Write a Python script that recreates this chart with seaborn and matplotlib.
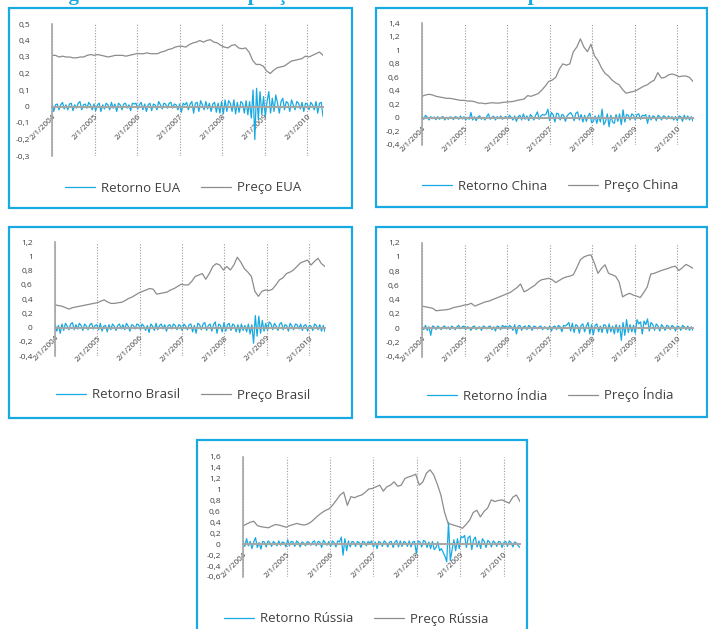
import numpy as np
import pandas as pd
import matplotlib
matplotlib.use('Agg')
import matplotlib.pyplot as plt
import matplotlib.patches as mpatches
import seaborn as sns


## ---- data (monthly prices, half-monthly returns) ----
start_date, end_date = '2004-01-02', '2010-05-18'
year_ticks = ['2004-01-02', '2005-01-02', '2006-01-02', '2007-01-02',
              '2008-01-02', '2009-01-02', '2010-01-02']
year_labels = ['2/1/2004', '2/1/2005', '2/1/2006', '2/1/2007',
               '2/1/2008', '2/1/2009', '2/1/2010']

countries = ['EUA', 'China', 'Brasil', 'Índia', 'Rússia']

price_eua = [0.31, 0.31, 0.30, 0.305, 0.30, 0.30, 0.295, 0.295, 0.30, 0.30, 0.31, 0.315,
             0.31, 0.315, 0.31, 0.305, 0.30, 0.305, 0.31, 0.31, 0.31, 0.305, 0.31, 0.315,
             0.32, 0.32, 0.32, 0.325, 0.32, 0.32, 0.32, 0.33, 0.335, 0.345, 0.35, 0.36,
             0.365, 0.365, 0.36, 0.375, 0.385, 0.39, 0.40, 0.39, 0.40, 0.405, 0.39, 0.385,
             0.37, 0.36, 0.355, 0.37, 0.375, 0.355, 0.35, 0.355, 0.33, 0.28, 0.255, 0.255,
             0.245, 0.215, 0.20, 0.22, 0.235, 0.24, 0.245, 0.26, 0.275, 0.28, 0.285, 0.29,
             0.305, 0.30, 0.31, 0.32, 0.33, 0.31]
ret_eua = [0.02, -0.03, 0.01, 0.015, -0.02, 0.01, 0.025, -0.015, 0.01, -0.02, 0.015, 0.02,
           -0.025, 0.01, -0.01, 0.02, 0.03, -0.02, 0.01, 0.015, -0.01, 0.025, 0.01, -0.02,
           0.015, -0.025, 0.01, 0.02, -0.03, 0.01, -0.015, 0.02, 0.01, -0.02, 0.025, -0.01,
           0.015, -0.03, 0.02, 0.01, -0.02, 0.015, 0.02, -0.01, 0.01, -0.025, 0.02, 0.015,
           0.02, -0.015, 0.01, 0.025, -0.02, 0.015, -0.03, 0.01, 0.02, -0.025, 0.015, 0.01,
           -0.02, 0.03, 0.01, -0.015, 0.02, 0.015, -0.01, 0.02, 0.025, -0.01, 0.015, 0.01,
           -0.02, 0.015, -0.035, 0.02, 0.01, 0.025, -0.02, 0.015, 0.03, -0.04, 0.02, 0.025,
           -0.03, 0.035, 0.01, -0.02, 0.03, -0.015, 0.02, -0.03, 0.015, 0.025, -0.035, 0.02,
           -0.04, 0.03, -0.045, 0.04, -0.03, 0.035, 0.02, -0.03, 0.04, -0.045, 0.025, -0.035,
           0.03, 0.02, -0.04, 0.035, -0.05, 0.03, -0.07, 0.10, -0.20, 0.11, -0.08, 0.09,
           -0.05, 0.06, -0.06, 0.03, 0.09, -0.04, 0.05, -0.03, 0.07, 0.02, -0.04, 0.03,
           0.05, -0.02, 0.03, 0.02, -0.03, 0.04, 0.01, -0.02, 0.03, 0.02, -0.015, 0.025,
           -0.03, 0.02, 0.015, -0.02, 0.025, 0.01, -0.02, 0.03, -0.04, 0.02, 0.025, -0.06]

price_china = [0.32, 0.34, 0.35, 0.34, 0.32, 0.31, 0.30, 0.29, 0.29, 0.28, 0.27, 0.26,
               0.26, 0.25, 0.25, 0.24, 0.22, 0.22, 0.21, 0.22, 0.225, 0.22, 0.22, 0.23,
               0.235, 0.24, 0.245, 0.26, 0.27, 0.28, 0.33, 0.32, 0.34, 0.36, 0.41, 0.47,
               0.54, 0.56, 0.60, 0.72, 0.80, 0.78, 0.80, 0.98, 1.05, 1.17, 1.05, 0.98,
               1.09, 0.92, 0.85, 0.74, 0.66, 0.62, 0.56, 0.52, 0.49, 0.42, 0.365, 0.38,
               0.39, 0.41, 0.44, 0.47, 0.49, 0.53, 0.56, 0.67, 0.59, 0.60, 0.636, 0.65,
               0.636, 0.61, 0.62, 0.62, 0.60, 0.54]
ret_china = [0.03, -0.02, 0.04, 0.01, -0.03, 0.02, -0.01, 0.015, -0.025, 0.02, -0.02, 0.01,
             0.02, -0.03, 0.01, -0.02, 0.015, 0.01, -0.025, 0.02, 0.01, -0.02, 0.03, -0.015,
             0.02, -0.03, 0.01, -0.02, 0.08, -0.03, 0.02, -0.04, 0.015, 0.03, -0.02, 0.01,
             -0.03, 0.02, 0.06, -0.02, 0.01, 0.025, -0.03, 0.02, -0.01, 0.03, -0.02, 0.01,
             0.02, -0.015, 0.04, 0.01, -0.03, 0.03, -0.05, 0.02, 0.04, -0.03, 0.06, -0.02,
             0.03, -0.04, 0.05, 0.02, -0.03, 0.04, 0.09, -0.02, 0.03, 0.05, 0.04, 0.06,
             0.13, -0.04, 0.08, 0.05, -0.06, 0.07, 0.06, -0.03, 0.05, 0.04, -0.05, 0.03,
             0.06, 0.08, 0.04, -0.04, 0.07, 0.09, -0.03, 0.05, -0.06, 0.04, -0.05, 0.03,
             0.07, -0.07, -0.05, 0.03, -0.08, 0.04, -0.06, 0.13, -0.10, -0.05, 0.06, -0.13,
             0.04, -0.06, -0.08, 0.05, -0.05, 0.06, -0.10, 0.12, -0.06, 0.05, 0.04, -0.03,
             0.06, 0.04, -0.03, 0.05, 0.06, -0.02, 0.04, 0.03, 0.05, -0.08, 0.04, -0.03,
             0.03, 0.02, -0.04, 0.04, 0.02, -0.03, 0.03, 0.02, -0.02, 0.03, -0.01, 0.02,
             -0.03, 0.02, -0.04, 0.03, 0.02, -0.05, 0.04, -0.02, 0.03, -0.03, 0.02, -0.05]

price_brasil = [0.32, 0.31, 0.30, 0.28, 0.26, 0.28, 0.29, 0.30, 0.31, 0.32, 0.33, 0.34,
                0.35, 0.37, 0.39, 0.36, 0.34, 0.34, 0.35, 0.355, 0.38, 0.41, 0.43, 0.46,
                0.49, 0.51, 0.53, 0.55, 0.54, 0.47, 0.48, 0.49, 0.50, 0.53, 0.55, 0.58,
                0.61, 0.60, 0.60, 0.65, 0.72, 0.74, 0.76, 0.68, 0.76, 0.86, 0.90, 0.88,
                0.81, 0.86, 0.81, 0.88, 0.99, 0.92, 0.83, 0.78, 0.72, 0.51, 0.44, 0.51,
                0.53, 0.52, 0.54, 0.60, 0.67, 0.70, 0.76, 0.78, 0.81, 0.86, 0.91, 0.93,
                0.95, 0.88, 0.93, 0.975, 0.90, 0.86]
ret_brasil = [0.06, -0.05, 0.03, -0.08, 0.05, -0.04, 0.06, 0.02, -0.03, 0.05, 0.07, -0.03,
              0.04, -0.02, 0.06, 0.03, -0.04, 0.05, 0.02, -0.03, 0.04, 0.06, -0.02, 0.03,
              0.04, -0.03, 0.06, -0.05, 0.02, 0.03, -0.06, 0.04, -0.03, 0.05, 0.02, -0.04,
              0.03, 0.05, -0.02, 0.04, -0.03, 0.06, 0.02, -0.05, 0.04, 0.03, -0.02, 0.05,
              0.04, -0.03, 0.05, 0.02, -0.04, 0.03, -0.07, 0.05, 0.02, -0.04, 0.06, -0.03,
              0.03, 0.05, -0.02, 0.04, -0.05, 0.03, 0.04, -0.02, 0.05, 0.03, -0.03, 0.04,
              0.03, -0.04, 0.05, 0.02, -0.03, 0.04, 0.05, -0.06, 0.03, -0.08, 0.06, 0.04,
              -0.03, 0.05, 0.07, -0.04, 0.03, 0.05, -0.05, 0.04, 0.08, -0.08, 0.05, 0.03,
              -0.06, 0.07, -0.05, 0.04, 0.06, -0.04, 0.05, 0.03, -0.06, 0.04, -0.07, 0.05,
              -0.04, 0.03, -0.06, 0.05, -0.09, 0.04, -0.22, 0.17, -0.12, 0.16, -0.08, 0.10,
              -0.05, 0.06, -0.04, 0.08, 0.05, -0.03, 0.06, 0.02, -0.04, 0.05, 0.07, -0.03,
              0.04, 0.03, -0.05, 0.06, 0.02, -0.03, 0.05, 0.04, -0.02, 0.05, -0.04, 0.03,
              0.04, -0.05, 0.03, 0.02, -0.04, 0.05, 0.03, -0.03, 0.04, -0.05, 0.03, -0.06]

price_india = [0.31, 0.30, 0.29, 0.28, 0.245, 0.25, 0.255, 0.26, 0.27, 0.29, 0.30, 0.31,
               0.325, 0.33, 0.35, 0.31, 0.33, 0.35, 0.37, 0.38, 0.40, 0.42, 0.44, 0.46,
               0.48, 0.50, 0.535, 0.57, 0.62, 0.51, 0.535, 0.57, 0.60, 0.65, 0.68, 0.69,
               0.70, 0.68, 0.64, 0.67, 0.70, 0.72, 0.73, 0.75, 0.85, 0.96, 1.00, 1.02,
               1.03, 0.91, 0.77, 0.84, 0.89, 0.77, 0.75, 0.73, 0.65, 0.44, 0.47, 0.49,
               0.465, 0.45, 0.43, 0.50, 0.58, 0.76, 0.77, 0.79, 0.81, 0.825, 0.84, 0.86,
               0.87, 0.81, 0.85, 0.895, 0.87, 0.84]
ret_india = [0.03, -0.02, 0.04, -0.03, 0.02, -0.10, 0.03, 0.02, -0.02, 0.03, 0.01, -0.02,
             0.02, 0.03, -0.01, 0.02, -0.02, 0.03, 0.01, -0.02, 0.02, 0.04, -0.01, 0.02,
             0.03, -0.02, 0.02, 0.01, -0.03, 0.02, 0.03, -0.02, 0.01, 0.02, -0.03, 0.03,
             0.02, -0.01, 0.02, 0.03, -0.02, 0.02, -0.04, 0.03, 0.02, -0.02, 0.04, 0.02,
             0.03, -0.02, 0.04, 0.02, -0.03, 0.05, -0.08, 0.03, 0.04, -0.03, 0.02, 0.03,
             -0.02, 0.04, 0.02, -0.03, 0.03, 0.02, -0.01, 0.02, 0.03, -0.02, 0.02, 0.01,
             -0.02, 0.03, -0.04, 0.02, 0.03, -0.02, 0.04, 0.02, -0.05, 0.04, 0.03, 0.05,
             0.08, -0.04, 0.07, -0.06, 0.05, 0.03, -0.07, 0.04, 0.06, -0.05, 0.03, 0.08,
             -0.08, 0.05, -0.09, 0.04, 0.06, -0.05, 0.03, -0.06, 0.05, 0.04, -0.07, 0.06,
             -0.05, 0.03, -0.08, 0.05, -0.06, 0.04, -0.17, 0.08, -0.10, 0.12, -0.06, 0.05,
             -0.05, 0.04, -0.07, 0.12, 0.06, 0.09, -0.08, 0.10, 0.05, 0.13, -0.04, 0.08,
             0.05, -0.03, 0.06, 0.03, -0.04, 0.05, 0.02, -0.03, 0.04, 0.03, -0.02, 0.04,
             0.02, -0.04, 0.03, 0.02, -0.03, 0.04, 0.02, -0.02, 0.03, -0.03, 0.02, -0.03]

price_russia = [0.33, 0.37, 0.40, 0.42, 0.34, 0.32, 0.31, 0.30, 0.33, 0.36, 0.35, 0.33,
                0.31, 0.34, 0.36, 0.38, 0.36, 0.35, 0.37, 0.41, 0.47, 0.53, 0.58, 0.62,
                0.65, 0.72, 0.81, 0.90, 0.95, 0.71, 0.87, 0.85, 0.88, 0.90, 0.95, 1.01,
                1.02, 1.05, 1.08, 0.97, 1.05, 1.08, 1.14, 1.06, 1.08, 1.20, 1.23, 1.25,
                1.28, 1.08, 1.14, 1.30, 1.36, 1.27, 1.10, 0.90, 0.59, 0.38, 0.36, 0.34,
                0.32, 0.29, 0.36, 0.44, 0.58, 0.62, 0.50, 0.60, 0.66, 0.81, 0.78, 0.80,
                0.81, 0.78, 0.75, 0.86, 0.90, 0.78]
ret_russia = [0.06, -0.04, 0.10, -0.03, 0.05, -0.08, 0.04, 0.12, -0.06, 0.03, -0.09, 0.05,
              0.04, -0.05, 0.06, 0.03, -0.04, 0.05, 0.02, -0.03, 0.06, -0.02, 0.04, 0.03,
              -0.05, 0.08, -0.03, 0.05, 0.04, -0.04, 0.06, 0.03, -0.05, 0.04, 0.02, -0.03,
              0.05, 0.03, -0.02, 0.04, 0.06, -0.03, 0.05, 0.04, -0.06, 0.07, 0.03, -0.02,
              0.05, -0.04, 0.06, 0.03, -0.05, 0.06, 0.04, 0.13, -0.20, 0.10, -0.12, 0.06,
              -0.05, 0.05, 0.04, -0.04, 0.05, 0.03, -0.06, 0.05, 0.04, -0.03, 0.05, 0.02,
              0.06, -0.05, 0.04, -0.08, 0.05, 0.03, -0.04, 0.06, 0.03, -0.05, 0.04, 0.05,
              -0.06, 0.04, 0.07, -0.05, 0.06, -0.04, 0.05, 0.03, -0.04, 0.06, -0.05, 0.04,
              0.05, -0.17, 0.06, 0.04, -0.05, 0.07, 0.05, -0.06, 0.04, -0.08, 0.05, -0.10,
              -0.06, 0.04, -0.12, -0.08, -0.15, -0.22, -0.32, 0.40, -0.30, -0.10, 0.08, -0.12,
              0.10, -0.08, 0.14, 0.12, 0.16, -0.06, 0.12, 0.15, -0.10, 0.08, 0.13, -0.05,
              0.06, -0.08, 0.10, 0.05, -0.06, 0.07, 0.04, -0.05, 0.06, 0.03, -0.04, 0.05,
              0.04, -0.06, 0.03, 0.05, -0.04, 0.06, 0.03, -0.05, 0.04, 0.02, -0.03, -0.06]

prices = [price_eua, price_china, price_brasil, price_india, price_russia]
returns = [ret_eua, ret_china, ret_brasil, ret_india, ret_russia]
y_limits = [(-0.3, 0.5, 0.1), (-0.4, 1.4, 0.2), (-0.4, 1.2, 0.2), (-0.4, 1.2, 0.2), (-0.6, 1.6, 0.2)]

title = 'Figura 5 – Retornos e preço das bolsas de valores dos países'


## ---- layout in pixels of the 708x629 picture ----
W, H = 708, 629
BLUE = '#17A9E1'
GREY = '#8C8C8C'
AXGREY = '#A6A6A6'
TXT = '#404040'

# (x of 2004, x of data end, y top, y bottom)
axes_px = [(52, 323, 24, 156), (422, 693, 23.3, 145), (55, 325, 242.3, 356),
           (422, 693, 242.7, 356.7), (243, 520, 456.7, 577)]
# frame boxes (x0, y0, x1, y1)
frames_px = [(9, 8, 352, 208), (376, 8, 707, 207), (9, 227, 352, 418),
             (376, 227, 707, 417), (197, 440, 527, 660)]
legend_px = [(183, 188), (550, 186), (183, 395), (550, 395), (356, 619)]


def fig_box(l, r, t, b):
    return [l / W, 1 - b / H, (r - l) / W, (b - t) / H]


sns.set_theme(style='white')
plt.rcParams['font.family'] = ['Open Sans', 'DejaVu Sans']

fig = plt.figure(figsize=(W / 100, H / 100), dpi=100)

for i in range(5):
    l, r, t, b = axes_px[i]
    ax = fig.add_axes(fig_box(l, r, t, b))

    p_dates = pd.date_range(start_date, end_date, periods=len(prices[i]))
    r_dates = pd.date_range(start_date, end_date, periods=len(returns[i]))

    sns.lineplot(x=r_dates, y=returns[i], ax=ax, color=BLUE, lw=0.9, zorder=2,
                 estimator=None, label='Retorno ' + countries[i], legend=False)
    sns.lineplot(x=p_dates, y=prices[i], ax=ax, color=GREY, lw=0.9, zorder=2,
                 estimator=None, label='Preço ' + countries[i], legend=False)

    # spine position first: moving it resets the tick labels
    for s in ['top', 'right']:
        ax.spines[s].set_visible(False)
    ax.spines['bottom'].set_position(('data', 0))
    ax.spines['bottom'].set_color(AXGREY)
    ax.spines['bottom'].set_linewidth(1.4)
    ax.spines['bottom'].set_zorder(3)
    ax.spines['left'].set_color(AXGREY)
    ax.spines['left'].set_linewidth(1.2)

    lo, hi, step = y_limits[i]
    yt = np.round(np.arange(lo, hi + step / 2, step), 2)
    ax.set_ylim(lo, hi)
    ax.set_yticks(yt)
    ax.set_yticklabels([('%g' % v).replace('.', ',') for v in yt])
    ax.set_xlim(pd.Timestamp(start_date), pd.Timestamp(end_date))
    ax.set_xticks(pd.to_datetime(year_ticks))
    ax.set_xticklabels(year_labels)
    ax.set_xlabel('')
    ax.set_ylabel('')

    ax.xaxis.grid(True, linestyle=(0, (1, 1.5)), color='#9A9A9A', lw=0.8)
    ax.yaxis.grid(False)
    ax.set_facecolor('none')
    ax.tick_params(axis='y', length=0, pad=16, labelsize=6, labelcolor=TXT)
    ax.tick_params(axis='x', length=0, pad=5, labelsize=5.8, labelcolor=TXT)
    for lbl in ax.get_xticklabels():
        lbl.set_rotation(45)
        lbl.set_rotation_mode('anchor')
        lbl.set_ha('right')
        lbl.set_va('top')

    h, lab = ax.get_legend_handles_labels()
    lx, ly = legend_px[i]
    fig.legend(h, lab, loc='center', bbox_to_anchor=(lx / W, 1 - ly / H), ncol=2,
               frameon=False, fontsize=9.5, labelcolor=TXT, handlelength=2.3,
               handletextpad=0.4, columnspacing=1.6)

    x0, y0, x1, y1 = frames_px[i]
    fig.patches.append(mpatches.Rectangle((x0 / W, 1 - y1 / H), (x1 - x0) / W, (y1 - y0) / H,
                                          transform=fig.transFigure, fill=False,
                                          edgecolor=BLUE, lw=1.6))

fig.text(50 / W, 1.0, title, ha='left', va='baseline', fontsize=15, fontweight='bold',
         color=BLUE, family='Liberation Serif')

fig.savefig('out.png', dpi=100)
